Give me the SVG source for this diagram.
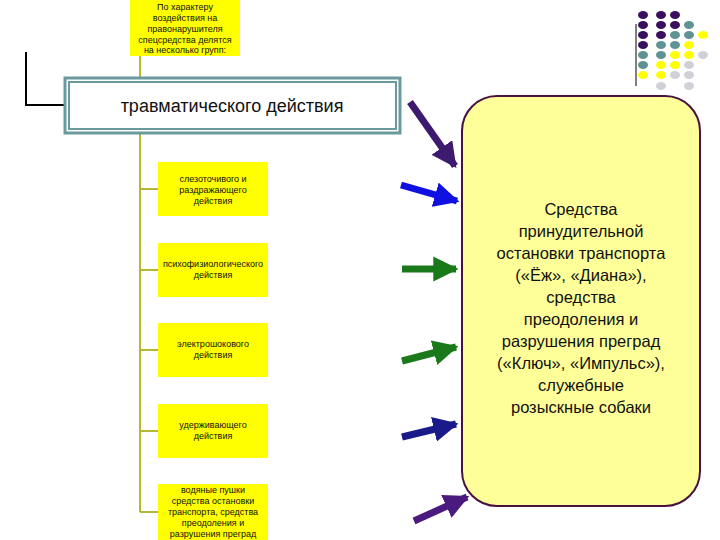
<svg xmlns="http://www.w3.org/2000/svg" width="720" height="540" viewBox="0 0 720 540">
<style>
.yb{fill:#ffff00}
.t{font-family:"Liberation Sans",Arial,sans-serif;font-size:9px;fill:#111;text-anchor:middle}
.big{font-family:"Liberation Sans",Arial,sans-serif;font-size:18px;fill:#111;text-anchor:middle}
.rt{font-family:"Liberation Sans",Arial,sans-serif;font-size:16.5px;fill:#111;text-anchor:middle}
.tr{stroke:#b8b830;stroke-width:2;fill:none}
.P{fill:#3a0f5e}.T{fill:#5e9294}.Y{fill:#ffff00}.G{fill:#d0d0d8}
</style>
<defs>
<marker id="ah" viewBox="0 0 10 10" refX="9" refY="5" markerWidth="3.6" markerHeight="3.6" orient="auto" markerUnits="strokeWidth"><path d="M0,0L10,5L0,10z" fill="context-stroke"/></marker>
</defs>
<rect width="720" height="540" fill="#fff"/>
<g id="dots">
<line x1="636" y1="24" x2="636" y2="86" stroke="#000" stroke-width="1"/>
<g>
<ellipse class="P" cx="643" cy="15" rx="5" ry="4"/><ellipse class="P" cx="661" cy="15" rx="5" ry="4"/><ellipse class="P" cx="675" cy="15" rx="5" ry="4"/>
<ellipse class="P" cx="643" cy="25" rx="5" ry="4"/><ellipse class="P" cx="661" cy="25" rx="5" ry="4"/><ellipse class="P" cx="675" cy="25" rx="5" ry="4"/><ellipse class="T" cx="689" cy="25" rx="5" ry="4"/>
<ellipse class="P" cx="643" cy="35" rx="5" ry="4"/><ellipse class="P" cx="661" cy="35" rx="5" ry="4"/><ellipse class="T" cx="675" cy="35" rx="5" ry="4"/><ellipse class="T" cx="689" cy="35" rx="5" ry="4"/><ellipse class="Y" cx="703" cy="35" rx="5" ry="4"/>
<ellipse class="P" cx="643" cy="45" rx="5" ry="4"/><ellipse class="T" cx="661" cy="45" rx="5" ry="4"/><ellipse class="T" cx="675" cy="45" rx="5" ry="4"/><ellipse class="Y" cx="689" cy="45" rx="5" ry="4"/>
<ellipse class="T" cx="643" cy="55" rx="5" ry="4"/><ellipse class="T" cx="661" cy="55" rx="5" ry="4"/><ellipse class="Y" cx="675" cy="55" rx="5" ry="4"/><ellipse class="Y" cx="689" cy="55" rx="5" ry="4"/><ellipse class="G" cx="703" cy="55" rx="5" ry="4"/>
<ellipse class="T" cx="643" cy="65" rx="5" ry="4"/><ellipse class="Y" cx="661" cy="65" rx="5" ry="4"/><ellipse class="Y" cx="675" cy="65" rx="5" ry="4"/><ellipse class="G" cx="689" cy="65" rx="5" ry="4"/>
<ellipse class="Y" cx="643" cy="75" rx="5" ry="4"/><ellipse class="Y" cx="661" cy="75" rx="5" ry="4"/><ellipse class="G" cx="675" cy="75" rx="5" ry="4"/><ellipse class="G" cx="689" cy="75" rx="5" ry="4"/>
<ellipse class="G" cx="661" cy="86" rx="5" ry="4"/><ellipse class="G" cx="689" cy="86" rx="5" ry="4"/>
</g>
</g>
<g id="connectors">
<path class="tr" d="M140,56V512M140,189H158M140,270H158M140,350H158M140,431H158M140,512H158"/>
<path d="M26,52V105H65" stroke="#000" stroke-width="2" fill="none"/>
<g stroke-width="7" marker-end="url(#ah)">
<line x1="410" y1="102" x2="455" y2="166" stroke="#3d1a6e"/>
<line x1="401" y1="185" x2="457" y2="201" stroke="#1010e0"/>
<line x1="402" y1="269" x2="456" y2="269" stroke="#1a7a1a"/>
<line x1="402" y1="361" x2="456" y2="347" stroke="#1a7a1a"/>
<line x1="402" y1="437" x2="456" y2="424" stroke="#1a1a8a"/>
<line x1="414" y1="521" x2="467" y2="497" stroke="#4a1a7e"/>
</g>
</g>
<g id="n0"><rect class="yb" x="130" y="0" width="110" height="56"/>
<text class="t" x="185" y="10">По характеру</text><text class="t" x="185" y="21">воздействия на</text><text class="t" x="185" y="32">правонарушителя</text><text class="t" x="185" y="43">спецсредства делятся</text><text class="t" x="185" y="53">на несколько групп:</text></g>
<g id="n1"><rect class="yb" x="158" y="80" width="112" height="54"/>
<rect x="65" y="78" width="335" height="55" fill="#fff" stroke="#6a9a9c" stroke-width="3"/>
<rect x="69" y="82" width="327" height="47" fill="none" stroke="#6a9a9c" stroke-width="2"/>
<text class="big" x="232" y="112">травматического действия</text></g>
<g id="n2"><rect class="yb" x="158" y="162" width="110" height="54"/>
<text class="t" x="213" y="182">слезоточивого и</text><text class="t" x="213" y="193">раздражающего</text><text class="t" x="213" y="204">действия</text></g>
<g id="n3"><rect class="yb" x="158" y="243" width="110" height="54"/>
<text class="t" x="213" y="267">психофизиологического</text><text class="t" x="213" y="278">действия</text></g>
<g id="n4"><rect class="yb" x="158" y="323" width="110" height="54"/>
<text class="t" x="213" y="347">электрошокового</text><text class="t" x="213" y="358">действия</text></g>
<g id="n5"><rect class="yb" x="158" y="404" width="110" height="54"/>
<text class="t" x="213" y="428">удерживающего</text><text class="t" x="213" y="439">действия</text></g>
<g id="n6"><rect class="yb" x="158" y="484" width="110" height="56"/>
<text class="t" x="213" y="493">водяные пушки</text><text class="t" x="213" y="504">средства остановки</text><text class="t" x="213" y="515">транспорта, средства</text><text class="t" x="213" y="526">преодоления и</text><text class="t" x="213" y="537">разрушения преград</text></g>
<g id="target"><rect x="462" y="96" width="238" height="410" rx="35" fill="#ffff99" stroke="#4a1040" stroke-width="2"/>
<text class="rt" x="581" y="215">Средства</text><text class="rt" x="581" y="237">принудительной</text><text class="rt" x="581" y="259">остановки транспорта</text><text class="rt" x="581" y="281">(«Ёж», «Диана»),</text><text class="rt" x="581" y="303">средства</text><text class="rt" x="581" y="325">преодоления и</text><text class="rt" x="581" y="347">разрушения преград</text><text class="rt" x="581" y="369">(«Ключ», «Импульс»),</text><text class="rt" x="581" y="391">служебные</text><text class="rt" x="581" y="413">розыскные собаки</text></g>
</svg>
